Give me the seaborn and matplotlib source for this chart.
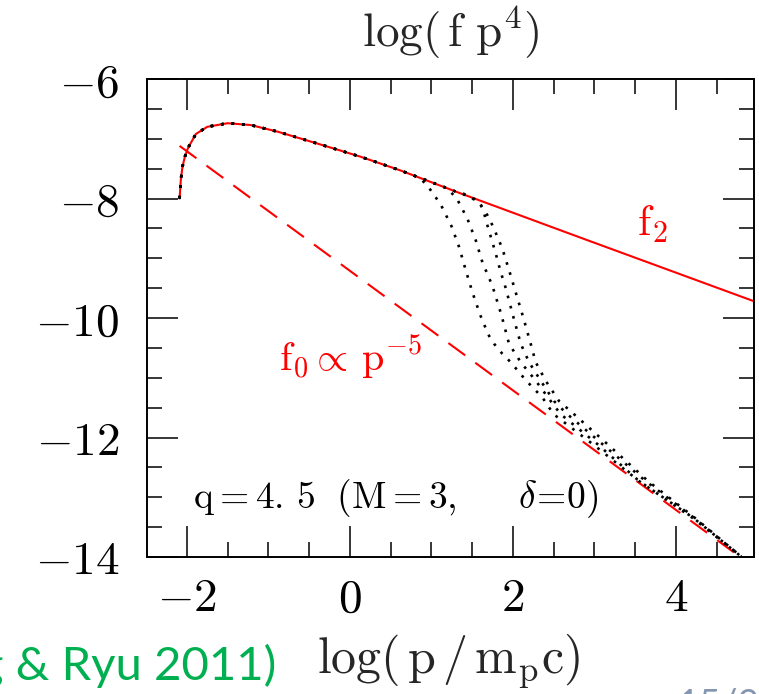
import numpy as np
import pandas as pd
import matplotlib
matplotlib.use("Agg")
import matplotlib.pyplot as plt
from matplotlib.ticker import MultipleLocator, FuncFormatter
import seaborn as sns

# ---------------- data ----------------
# f2 : full power-law spectrum (red solid)
x_f2 = [-2.09, -2.075, -2.055, -2.025, -1.985, -1.89, -1.75, -1.50, -1.22, -0.89,
        -0.40, 0.13, 0.62, 1.35, 2.82, 4.96]
y_f2 = [-8.00, -7.69, -7.47, -7.30, -7.15, -6.92, -6.80, -6.74, -6.77, -6.88,
        -7.08, -7.30, -7.53, -7.91, -8.65, -9.72]

# f0 ∝ p^-5 (red dashed)
x_f0 = [-2.09, 4.79]
y_f0 = [-7.12, -14.00]

# time-dependent spectra with cutoff (black dotted) -- tails after leaving f2
cut_a_x = [0.85, 0.95, 1.115, 1.246, 1.34, 1.422, 1.504, 1.597, 1.70, 1.769, 1.872,
           1.974, 2.158, 2.363, 2.50, 2.98, 3.55, 4.20, 4.80]
cut_a_y = [-7.65, -7.78, -8.10, -8.46, -8.81, -9.20, -9.57, -9.94, -10.28, -10.43, -10.60,
           -10.74, -11.04, -11.33, -11.61, -12.11, -12.73, -13.34, -13.99]

cut_b_x = [1.20, 1.32, 1.443, 1.545, 1.627, 1.749, 1.86, 1.953, 2.097, 2.281, 2.465,
           2.587, 3.038, 3.55, 4.21, 4.80]
cut_b_y = [-7.83, -8.02, -8.34, -8.70, -9.07, -9.46, -9.95, -10.43, -10.74, -11.05, -11.39,
           -11.61, -12.11, -12.73, -13.34, -13.99]

cut_c_x = [1.36, 1.48, 1.606, 1.65, 1.688, 1.79, 1.851, 1.913, 2.00, 2.097, 2.199, 2.342,
           2.505, 2.669, 3.099, 3.63, 4.22, 4.80]
cut_c_y = [-7.90, -7.97, -8.11, -8.26, -8.45, -8.92, -9.23, -9.50, -9.95, -10.43, -10.74, -11.05,
           -11.39, -11.61, -12.11, -12.73, -13.34, -13.99]

cut_d_x = [1.48, 1.58, 1.688, 1.761, 1.872, 1.974, 2.035, 2.13, 2.219, 2.281, 2.403,
           2.567, 2.751, 3.160, 3.66, 4.23, 4.80]
cut_d_y = [-7.97, -8.05, -8.28, -8.48, -8.84, -9.29, -9.57, -10.00, -10.43, -10.74, -11.05,
           -11.39, -11.61, -12.11, -12.73, -13.34, -13.99]

x_major = [-2, 0, 2, 4]
y_major = [-14, -12, -10, -8, -6]

title_text = r"$\mathrm{log(\,f\ p^{4})}$"
xlabel_text = r"$\mathrm{log(\,p\,/\,m_{p}c)}$"
ann_q = r"$\mathrm{q=4.\,5}\ \ \mathrm{(M=3,}\ \ \ \ \ \delta\!\mathrm{=}\!\mathrm{0)}$"
ann_f0 = r"$\mathrm{f_{0}\propto\,p^{-5}}$"
ann_f2 = r"$\mathrm{f_{2}}$"
cite_text = "(Kang & Ryu 2011)"
page_text = "15/28"

# ---------------- style ----------------
sns.set_theme(style="ticks")
plt.rcParams["font.family"] = ["DejaVu Sans"]
plt.rcParams["mathtext.fontset"] = "cm"
plt.rcParams["mathtext.default"] = "rm"

RED = "#ff0000"

fig = plt.figure(figsize=(7.59, 6.94), dpi=100)
fig.patch.set_facecolor("white")
ax = fig.add_axes([147 / 759, 1 - 557 / 694, 607 / 759, 478 / 694])
ax.set_facecolor("white")

# f2 red solid
sns.lineplot(x=x_f2, y=y_f2, ax=ax, color=RED, linewidth=1.5, sort=False,
             estimator=None, legend=False)
# f0 red dashed
sns.lineplot(x=x_f0, y=y_f0, ax=ax, color=RED, linewidth=1.5, sort=False,
             estimator=None, legend=False, linestyle=(0, (10, 6)))

# dotted cutoff curves: follow f2 until they leave it
for cx, cy in [(cut_a_x, cut_a_y), (cut_b_x, cut_b_y), (cut_c_x, cut_c_y), (cut_d_x, cut_d_y)]:
    px = [xv for xv in x_f2 if xv < cx[0]] + list(cx)
    py = [yv for xv, yv in zip(x_f2, y_f2) if xv < cx[0]] + list(cy)
    sns.lineplot(x=px, y=py, ax=ax, color="black", linewidth=1.9, sort=False,
                 estimator=None, legend=False, linestyle=(0, (1, 3)))

ax.set_xlim(-2.49, 4.96)
ax.set_ylim(-14, -6)

ax.xaxis.set_minor_locator(MultipleLocator(0.5))
ax.yaxis.set_minor_locator(MultipleLocator(0.5))
ax.set_xticks(x_major)
ax.set_yticks(y_major)

fmt = FuncFormatter(lambda v, p: r"$%g$" % v)
ax.xaxis.set_major_formatter(fmt)
ax.yaxis.set_major_formatter(fmt)

ax.tick_params(which="both", direction="in", top=True, right=True,
               colors="black", width=1.1)
ax.tick_params(which="major", length=22, labelsize=34)
ax.tick_params(axis="x", which="major", pad=14)
ax.tick_params(axis="y", which="major", pad=20)
ax.tick_params(which="minor", length=11)
for s in ax.spines.values():
    s.set_linewidth(1.4)
    s.set_color("black")

ax.set_title(title_text, fontsize=34, x=0.5, y=1.067, pad=0)
ax.set_xlabel(xlabel_text, fontsize=36)
ax.xaxis.label.set_va("baseline")
ax.xaxis.set_label_coords(0.4975, -0.243)
ax.set_ylabel("")

ax.text(-1.93, -13.18, ann_q, fontsize=27, color="black", ha="left", va="baseline")
ax.text(-0.873, -10.88, ann_f0, fontsize=29, color=RED, ha="left", va="baseline")
ax.text(3.53, -8.62, ann_f2, fontsize=31, color=RED, ha="left", va="baseline")

fig.text(276 / 759, 1 - 680 / 694, cite_text, fontsize=34, color="#00B050",
         family=["Lato", "DejaVu Sans"], ha="right", va="baseline")
fig.text(678 / 759, -0.032, page_text, fontsize=27, color="#8497B0",
         family=["Lato", "DejaVu Sans"], ha="left", va="baseline")

fig.savefig("out.png", dpi=100)
